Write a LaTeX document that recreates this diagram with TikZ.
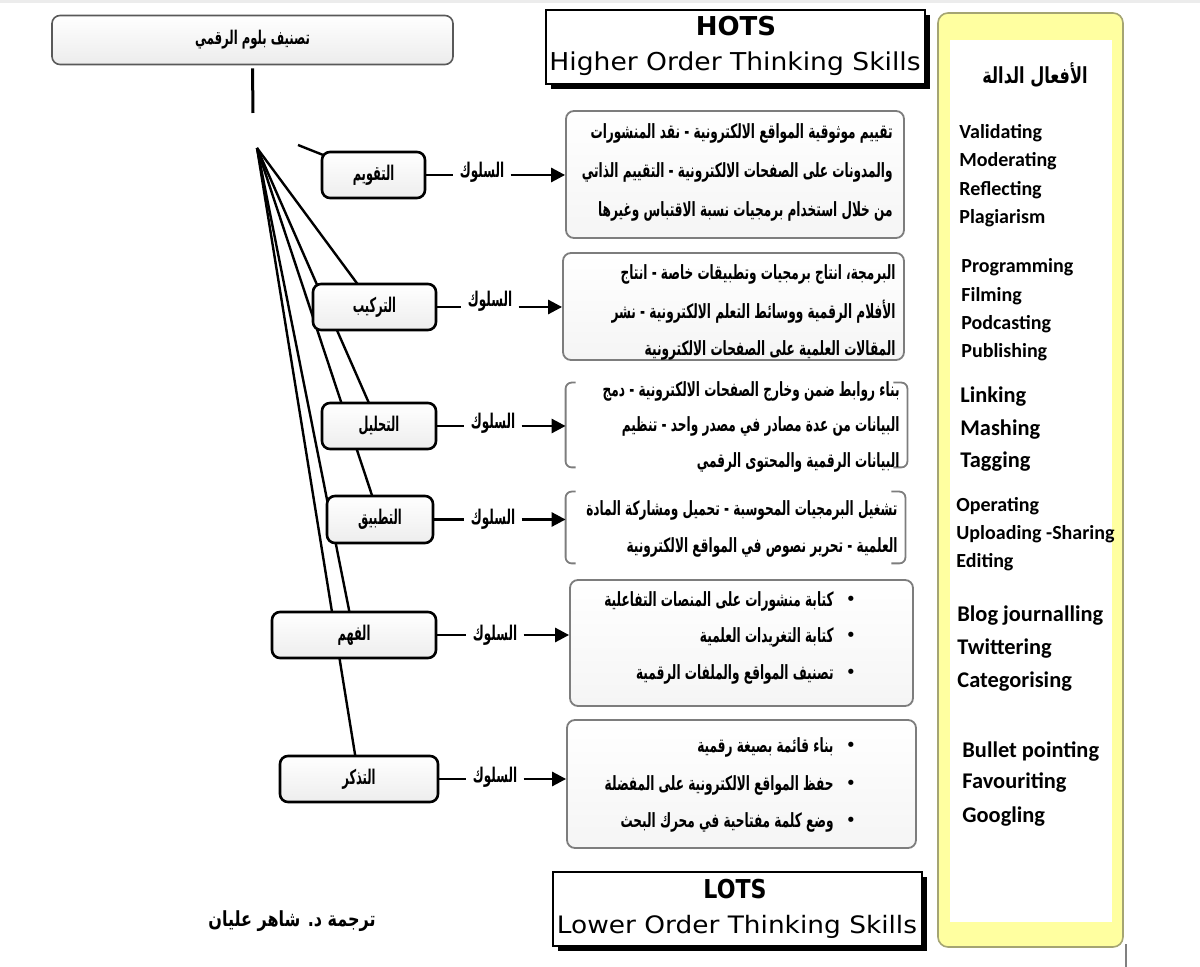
\documentclass[tikz,border=0pt]{standalone}
\usepackage{fontspec}
\setmainfont{DejaVu Sans}
\newfontfamily\arabicfont[Script=Arabic]{DejaVu Sans}
\newfontfamily\calibfont{Carlito}
\TeXXeTstate=1
\usetikzlibrary{arrows.meta,shadows,calc,backgrounds}
\newcommand{\AR}[1]{{\arabicfont\beginR #1\endR}}
\newcommand{\ARt}[1]{\scalebox{0.865}[1.4]{\AR{#1}}}
\newcommand{\ARl}[1]{\scalebox{0.76}[1.35]{\AR{#1}}}
\newcommand{\ARs}[1]{\scalebox{0.8}[1.35]{\AR{#1}}}
\definecolor{panelyellow}{RGB}{255,255,160}
\definecolor{panelborder}{RGB}{165,165,115}
\definecolor{boxgray}{RGB}{125,125,125}
\tikzset{
  lvl/.style={draw=black, line width=1.3pt, rounded corners=4pt, top color=white, bottom color=gray!14, inner sep=0pt, font=\bfseries\fontsize{7.5}{9}\selectfont},
  body/.style={draw=boxgray, line width=0.9pt, rounded corners=4pt, top color=white, bottom color=gray!8, inner sep=0pt},
  bline/.style={draw=boxgray, line width=0.9pt, rounded corners=3pt},
  fan/.style={line width=1.2pt},
  beh/.style={font=\bfseries\fontsize{7.5}{9}\selectfont, inner sep=3pt},
  conn/.style={line width=1.4pt},
  arr/.style={line width=1.4pt, -{Triangle[length=7pt,width=7pt]}},
  txt/.style={font=\bfseries\fontsize{7}{9}\selectfont, anchor=east, inner sep=0pt},
  bul/.style={font=\fontsize{9}{9}\selectfont, inner sep=0pt},
  verb/.style={font=\calibfont\bfseries\fontsize{10}{12}\selectfont, anchor=base west, inner sep=0pt},
  verbL/.style={font=\calibfont\bfseries\fontsize{11.2}{13}\selectfont, anchor=base west, inner sep=0pt},
  hotsbox/.style={draw=black, line width=0.6pt, fill=white, inner sep=0pt, drop shadow={shadow xshift=2.5pt, shadow yshift=-2.5pt, fill=black, opacity=1}},
}
\begin{document}
\begin{tikzpicture}[x=0.5pt,y=-0.5pt]
\useasboundingbox (0,0) rectangle (1200,967);
\fill[gray!15] (0,0) rectangle (1200,3);

% yellow panel
\node[draw=panelborder, line width=0.8pt, fill=panelyellow, rounded corners=5pt, minimum width=92.5pt, minimum height=467pt, inner sep=0pt] (panel) at (1030.5,480) {};
\node[fill=white, minimum width=81pt, minimum height=441pt, inner sep=0pt] (inner) at (1031,481) {};
\coordinate (t1) at (1126,944);
\coordinate (t2) at (1126,967);
\draw[gray, line width=0.6pt] (t1) -- (t2);

\node[font=\bfseries\fontsize{8.5}{11}\selectfont, inner sep=0pt] (vh) at (1035,75) {\scalebox{0.95}[1.3]{\AR{الأفعال الدالة}}};
\node[verb] (v1) at (959,139) {Validating};
\node[verb] (v2) at (959,167) {Moderating};
\node[verb] (v3) at (959,196) {Reflecting};
\node[verb] (v4) at (959,224) {Plagiarism};
\node[verb] (v5) at (961,273) {Programming};
\node[verb] (v6) at (961,302) {Filming};
\node[verb] (v7) at (961,330) {Podcasting};
\node[verb] (v8) at (961,358) {Publishing};
\node[verbL] (v9) at (960,403) {Linking};
\node[verbL] (v10) at (960,436) {Mashing};
\node[verbL] (v11) at (960,468) {Tagging};
\node[verb] (v12) at (956,512) {Operating};
\node[verb] (v13) at (956,540) {Uploading -Sharing};
\node[verb] (v14) at (956,568) {Editing};
\node[verbL] (v15) at (957,622) {Blog journalling};
\node[verbL] (v16) at (957,655) {Twittering};
\node[verbL] (v17) at (957,688) {Categorising};
\node[verbL] (v18) at (962,757) {Bullet pointing};
\node[verbL] (v19) at (962,789) {Favouriting};
\node[verbL] (v20) at (962,822) {Googling};

% HOTS / LOTS
\node[hotsbox, minimum width=189.5pt, minimum height=37pt] (hots) at (735.5,47) {};
\node[font=\bfseries\fontsize{13}{15}\selectfont, inner sep=0pt] (hotsT) at (736,26) {HOTS};
\node[inner sep=0pt] (hotsS) at (735,64) {\scalebox{1.08}[1]{\fontsize{12.3}{14}\selectfont Higher Order Thinking Skills}};
\node[hotsbox, minimum width=184.5pt, minimum height=37pt] (lots) at (737.5,909) {};
\node[inner sep=0pt] (lotsT) at (735,889) {\scalebox{0.85}[1]{\bfseries\fontsize{13}{15}\selectfont LOTS}};
\node[inner sep=0pt] (lotsS) at (737,927) {\scalebox{1.1}[1]{\fontsize{12}{14}\selectfont Lower Order Thinking Skills}};

% title
\node[draw=gray!70!black, line width=0.8pt, rounded corners=4pt, top color=white, bottom color=gray!15, minimum width=200.5pt, minimum height=24.5pt, inner sep=0pt, font=\bfseries\fontsize{7}{9}\selectfont] (title) at (252.5,40) {\scalebox{0.83}[1.35]{\AR{تصنيف بلوم الرقمي}}};
\coordinate (vend) at (253,113);
\draw[line width=1.5pt] ([yshift=-1.5pt]title.south) -- (vend);

% level boxes
\node[lvl, minimum width=51.5pt, minimum height=23pt] (eval) at (373.5,175) {\ARl{التقويم}};
\node[lvl, minimum width=61.5pt, minimum height=23pt] (synth) at (374.5,307) {\ARl{التركيب}};
\node[lvl, minimum width=57pt, minimum height=23pt] (anal) at (379,426) {\ARl{التحليل}};
\node[lvl, minimum width=53pt, minimum height=23.5pt] (appl) at (380,519.5) {\ARl{التطبيق}};
\node[lvl, minimum width=82pt, minimum height=23pt] (und) at (354,635) {\ARl{الفهم}};
\node[lvl, minimum width=79pt, minimum height=23pt] (rem) at (359,779) {\ARl{التذكر}};

% fan lines (behind boxes)
\coordinate (o) at (257,148);
\coordinate (o2) at (298,145);
\begin{scope}[on background layer]
\draw[fan] (o2) -- (eval.center);
\draw[fan] (o) -- (synth.center);
\draw[fan] (o) -- (anal.center);
\draw[fan] (o) -- (appl.center);
\draw[fan] (o) -- (und.center);
\draw[fan] (o) -- (rem.center);
\end{scope}

% body boxes
\node[body, minimum width=169pt, minimum height=63.5pt] (b1) at (735,174.5) {};
\node[body, minimum width=170.5pt, minimum height=53.5pt] (b2) at (733.5,306.5) {};
\node[minimum width=170.5pt, minimum height=42pt, inner sep=0pt] (b3) at (736.5,425) {};
\draw[bline] ([xshift=5pt]b3.north west) -- (b3.north west) -- (b3.south west) -- ([xshift=5pt]b3.south west);
\draw[bline] ([xshift=-7pt]b3.north east) -- (b3.north east) -- (b3.south east) -- ([xshift=-7pt]b3.south east);
\node[minimum width=169.5pt, minimum height=35.5pt, inner sep=0pt] (b4) at (735.5,527.5) {};
\draw[bline] ([xshift=5pt]b4.north west) -- (b4.north west) -- (b4.south west) -- ([xshift=5pt]b4.south west);
\draw[bline] ([xshift=-7pt]b4.north east) -- (b4.north east) -- (b4.south east) -- ([xshift=-7pt]b4.south east);
\node[body, minimum width=171.5pt, minimum height=63pt] (b5) at (741.5,643) {};
\node[body, minimum width=174.5pt, minimum height=64pt] (b6) at (741.5,784) {};

% behaviour labels and arrows
\foreach \lab/\bx/\s/\sx/\sy in {eval/b1/s1/482/172, synth/b2/s2/490/301, anal/b3/s3/493/423, appl/b4/s4/493/519, und/b5/s5/495/635, rem/b6/s6/495/777}{
  \node[beh] (\s) at (\sx,\sy) {\ARs{السلوك}};
  \draw[conn] (\lab.east) -- (\s.west |- \lab.east);
  \draw[arr] (\s.east |- \lab.east) -- (\bx.west |- \lab.east);
}

% body texts
\node[txt] (l11) at (893,133) {\ARt{تقييم موثوقية المواقع الالكترونية - نقد المنشورات}};
\node[txt] (l12) at (893,172) {\ARt{والمدونات على الصفحات الالكترونية - التقييم الذاتي}};
\node[txt] (l13) at (893,211) {\ARt{من خلال استخدام برمجيات نسبة الاقتباس وغيرها}};
\node[txt] (l21) at (896,274) {\ARt{البرمجة، انتاج برمجيات وتطبيقات خاصة - انتاج}};
\node[txt] (l22) at (896,312) {\ARt{الأفلام الرقمية ووسائط التعلم الالكترونية - نشر}};
\node[txt] (l23) at (896,350) {\ARt{المقالات العلمية على الصفحات الالكترونية}};
\node[txt] (l31) at (900,391) {\ARt{بناء روابط ضمن وخارج الصفحات الالكترونية - دمج}};
\node[txt] (l32) at (900,426) {\ARt{البيانات من عدة مصادر في مصدر واحد - تنظيم}};
\node[txt] (l33) at (900,462) {\ARt{البيانات الرقمية والمحتوى الرقمي}};
\node[txt] (l41) at (898,510) {\ARt{تشغيل البرمجيات المحوسبة - تحميل ومشاركة المادة}};
\node[txt] (l42) at (898,547) {\ARt{العلمية - تحرير نصوص في المواقع الالكترونية}};
\foreach \n/\y/\t in {l51/601/{كتابة منشورات على المنصات التفاعلية}, l52/637/{كتابة التغريدات العلمية}, l53/674/{تصنيف المواقع والملفات الرقمية}, l61/747/{بناء قائمة بصيغة رقمية}, l62/785/{حفظ المواقع الالكترونية على المفضلة}, l63/822/{وضع كلمة مفتاحية في محرك البحث}}{
  \node[bul] (\n b) at (851,\y) {•};
  \node[txt] (\n) at (834,\y) {\ARt{\t}};
}

% footer
\node[font=\bfseries\fontsize{8}{10}\selectfont, inner sep=0pt] (credit) at (292,921) {\scalebox{1}[1.3]{\AR{ترجمة د. شاهر عليان}}};
\end{tikzpicture}
\end{document}
